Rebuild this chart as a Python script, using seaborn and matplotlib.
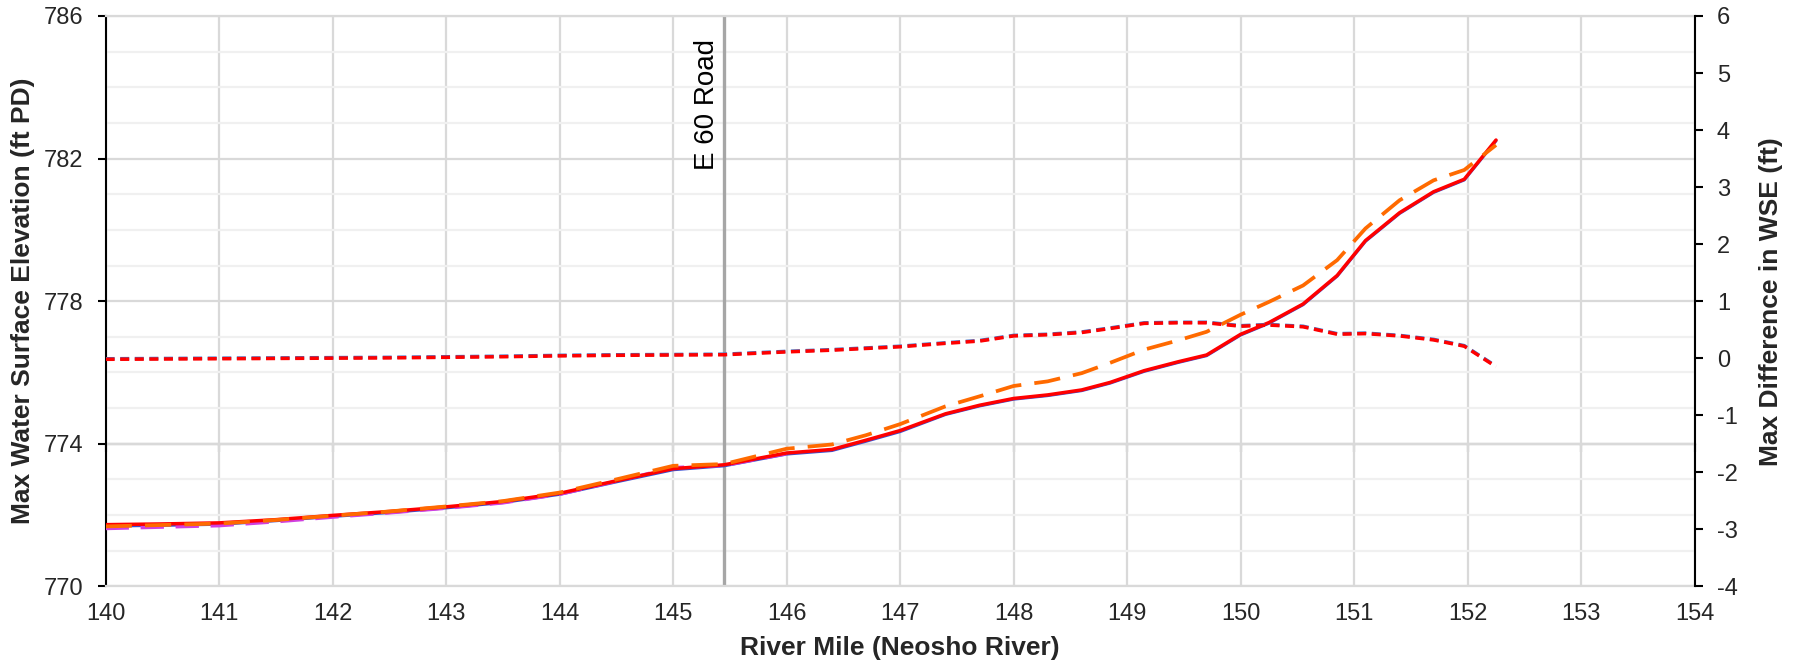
import numpy as np
import matplotlib
matplotlib.use("Agg")
import matplotlib.pyplot as plt
from matplotlib.ticker import MultipleLocator
import seaborn as sns

# River mile stations (Neosho River)
river_mile = [140.0, 140.5, 141.0, 141.5, 142.0, 142.5, 143.0, 143.5, 144.0, 144.5,
              145.0, 145.45, 146.0, 146.4, 146.7, 147.0, 147.4, 147.7, 148.0, 148.3,
              148.6, 148.85, 149.15, 149.45, 149.7, 150.0, 150.25, 150.55, 150.85, 151.1,
              151.4, 151.7, 151.97, 152.25]

# Max water surface elevation (ft PD), solid red series
wse_solid = [771.73, 771.75, 771.78, 771.87, 771.99, 772.10, 772.23, 772.38, 772.61, 772.96,
             773.30, 773.41, 773.74, 773.84, 774.10, 774.37, 774.84, 775.08, 775.27, 775.37,
             775.51, 775.72, 776.05, 776.30, 776.49, 777.07, 777.40, 777.92, 778.72, 779.70,
             780.48, 781.07, 781.42, 782.52]

# Max water surface elevation (ft PD), dashed orange series
wse_dashed = [771.68, 771.72, 771.76, 771.86, 771.98, 772.10, 772.24, 772.39, 772.63, 773.00,
              773.38, 773.43, 773.86, 773.98, 774.24, 774.55, 775.05, 775.33, 775.62, 775.75,
              775.98, 776.27, 776.64, 776.90, 777.14, 777.62, 777.98, 778.44, 779.15, 780.04,
              780.83, 781.39, 781.68, 782.38]

# Underlying series drawn below the red/orange ones (mostly hidden)
wse_solid_base = [771.69, 771.71, 771.74, 771.84, 771.96, 772.07, 772.20, 772.35, 772.58, 772.93,
                  773.27, 773.38, 773.71, 773.81, 774.07, 774.34, 774.82, 775.06, 775.25, 775.35,
                  775.49, 775.70, 776.03, 776.28, 776.47, 777.05, 777.38, 777.90, 778.70, 779.68,
                  780.46, 781.05, 781.40, 782.50]
base_dashed_mile = [140.0, 140.5, 141.0, 141.5, 142.0, 142.5, 143.0, 143.5, 144.0, 144.5,
                    145.0, 145.45, 146.0]
wse_dashed_base = [771.62, 771.66, 771.70, 771.81, 771.94, 772.06, 772.19, 772.34, 772.58, 772.95,
                   773.33, 773.39, 773.72]

# Max difference in WSE (ft), dotted series on right axis
wse_diff = [-0.02, -0.015, -0.01, -0.005, 0.0, 0.005, 0.015, 0.025, 0.04, 0.05,
            0.055, 0.06, 0.11, 0.14, 0.17, 0.20, 0.26, 0.30, 0.39, 0.41,
            0.45, 0.52, 0.61, 0.62, 0.62, 0.56, 0.58, 0.55, 0.42, 0.43,
            0.39, 0.32, 0.21, -0.15]
wse_diff_base = [-0.01, -0.005, 0.0, 0.005, 0.01, 0.015, 0.025, 0.035, 0.05, 0.06,
                 0.065, 0.07, 0.12, 0.15, 0.18, 0.21, 0.27, 0.31, 0.40, 0.42,
                 0.46, 0.53, 0.62, 0.63, 0.63, 0.57, 0.59, 0.56, 0.43, 0.44,
                 0.40, 0.33, 0.22, -0.14]

road_mile = 145.45
road_label = "E 60 Road"

x_ticks = list(range(140, 155))
left_ticks = [770, 774, 778, 782, 786]
right_ticks = list(range(-4, 7))

sns.set_theme(style="white")
plt.rcParams["font.family"] = ["Liberation Sans", "DejaVu Sans"]
plt.rcParams["axes.unicode_minus"] = False

fig = plt.figure(figsize=(17.99, 6.69), dpi=100)
ax = fig.add_axes([0.0587, 0.1236, 0.8833, 0.8525])
ax2 = ax.twinx()

# grid
ax.set_xlim(140, 154)
ax.set_ylim(770, 786)
ax.set_xticks(x_ticks)
ax.set_yticks(left_ticks)
ax.yaxis.set_minor_locator(MultipleLocator(1))
ax.grid(which="minor", axis="y", color="#F0F0F0", lw=1.6)
ax.grid(which="major", axis="y", color="#D9D9D9", lw=1.6)
ax.grid(which="major", axis="x", color="#D9D9D9", lw=1.6)
ax.set_axisbelow(True)

# E 60 Road marker
ax.axvline(road_mile, color="#A6A6A6", lw=2.4, zorder=2)
ax.text(road_mile - 0.04, 785.35, road_label, rotation=90, ha="right", va="top",
        fontsize=20, color="black")

# black reference line with tick marks
sec = ax.secondary_xaxis(0.25)
sec.set_xticks(x_ticks)
sec.set_xticklabels([])
sec.tick_params(axis="x", direction="out", length=6, width=1.5, color="black")
sec.spines["bottom"].set_color("black")
sec.spines["bottom"].set_linewidth(1.5)

# WSE lines
sns.lineplot(x=river_mile, y=wse_solid_base, ax=ax, color="#3A4FD0", lw=2.2, zorder=3)
sns.lineplot(x=base_dashed_mile, y=wse_dashed_base, ax=ax, color="#D040E0", lw=2.4,
             linestyle=(0, (7, 3.5)), zorder=3)
sns.lineplot(x=river_mile, y=wse_solid, ax=ax, color="#FF0000", lw=2.5, zorder=4)
sns.lineplot(x=river_mile, y=wse_dashed, ax=ax, color="#FF6A00", lw=2.7,
             linestyle=(0, (7, 3.5)), zorder=5)

# difference lines (same dash pattern so the gaps line up)
sns.lineplot(x=river_mile, y=wse_diff_base, ax=ax2, color="#4472C4", lw=2.5,
             linestyle=(0, (2.6, 1.6)), zorder=3)
sns.lineplot(x=river_mile, y=wse_diff, ax=ax2, color="#FF0000", lw=2.5,
             linestyle=(0, (2.6, 1.6)), zorder=4)

ax2.set_ylim(-4, 6)
ax2.set_yticks(right_ticks)
ax2.grid(False)

# spines and ticks
for s in ["top", "bottom"]:
    ax.spines[s].set_color("#D9D9D9")
    ax.spines[s].set_linewidth(1.6)
    ax2.spines[s].set_visible(False)
ax.spines["left"].set_color("black")
ax.spines["left"].set_linewidth(1.5)
ax.spines["right"].set_visible(False)
ax2.spines["left"].set_visible(False)
ax2.spines["right"].set_color("black")
ax2.spines["right"].set_linewidth(1.5)

ax.tick_params(axis="x", which="both", length=0, pad=12, labelsize=17)
ax.tick_params(axis="y", which="major", direction="out", length=6, width=1.5,
               color="black", pad=10, labelsize=17, left=True)
ax.tick_params(axis="y", which="minor", length=0)
ax2.tick_params(axis="y", direction="out", length=6, width=1.5, color="black",
                pad=10, labelsize=17, right=True)

ax.set_xlabel("River Mile (Neosho River)", fontsize=19, fontweight="bold")
ax.xaxis.set_label_coords(0.5, -0.088)
ax.set_ylabel("Max Water Surface Elevation (ft PD)", fontsize=19, fontweight="bold",
              va="center")
ax.yaxis.set_label_coords(-0.052, 0.5)
ax2.set_ylabel("Max Difference in WSE (ft)", fontsize=19, fontweight="bold", va="center")
ax2.yaxis.set_label_coords(1.048, 0.5)

plt.savefig("out.png", dpi=100)
